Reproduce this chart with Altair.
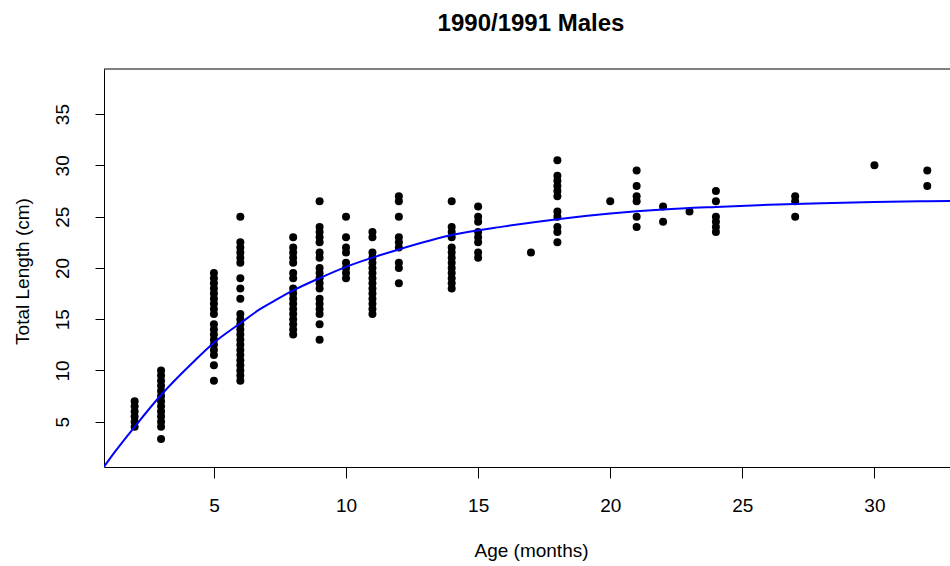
import altair as alt
import pandas as pd

# ---- data ----
ages = [2, 3, 5, 6, 8, 9, 10, 11, 12, 14, 15, 17, 18, 20, 21, 22, 23, 24, 27, 30, 32]
lengths = [
    [4.5, 5, 5.5, 6, 6.5, 7],
    [3.3, 4.5, 5, 5.5, 6, 6.5, 7, 7.5, 8, 8.5, 9, 9.5, 10],
    [9, 10.5, 11.5, 12, 12.5, 13, 13.5, 14, 14.5, 15.5, 16, 16.5, 17, 17.5, 18, 18.5, 19, 19.5],
    [9, 9.5, 10, 10.5, 11, 11.5, 12, 12.5, 13, 13.5, 14, 14.5, 15, 15.5, 17, 18, 19, 20.5, 21, 21.5, 22, 22.5, 25],
    [13.5, 14, 14.5, 15, 15.5, 16, 16.5, 17, 17.5, 18, 19, 19.5, 20.5, 21, 21.5, 22, 23],
    [13, 14.5, 15.5, 16, 16.5, 17, 18, 18.5, 19, 19.5, 20, 21, 21.5, 22.5, 23, 23.5, 24, 26.5],
    [19, 19.5, 20, 20.5, 21.5, 22, 23, 25],
    [15.5, 16, 16.5, 17, 17.5, 18, 18.5, 19, 19.5, 20, 20.5, 21, 21.5, 23, 23.5],
    [18.5, 20, 20.5, 22, 22.5, 23, 25, 26.5, 27],
    [18, 18.5, 19, 19.5, 20, 20.5, 21, 21.5, 22, 23, 23.5, 24, 26.5],
    [21, 21.5, 22.5, 23, 23.5, 24.5, 25, 26],
    [21.5],
    [22.5, 23.5, 24, 25, 25.5, 27, 27.5, 28, 28.5, 29, 30.5],
    [26.5],
    [24, 25, 26.5, 27, 28, 29.5],
    [24.5, 26],
    [25.5],
    [23.5, 24, 24.5, 25, 26.5, 27.5],
    [25, 26.5, 27],
    [30],
    [28, 29.5],
]

# fitted growth curve
curve_age = [0.84, 1.25, 2, 3, 3.7, 4.27, 5, 6, 6.73, 7.3, 8, 9, 10, 11, 12, 14,
             16, 18, 20, 22, 24, 26, 28, 30, 32, 32.86]
curve_len = [0.6, 2.05, 4.5, 7.6, 9.5, 10.95, 12.7, 14.6, 15.95, 16.8, 17.8, 19.0, 20.1,
             21.0, 21.8, 23.2, 24.05, 24.75, 25.3, 25.7, 25.95, 26.15, 26.3, 26.42, 26.5, 26.53]

x_ticks = [5, 10, 15, 20, 25, 30]
y_ticks = [5, 10, 15, 20, 25, 30, 35]

rows = [(a, v) for a, col in zip(ages, lengths) for v in col]
df_pts = pd.DataFrame(rows, columns=["age", "length"])
df_curve = pd.DataFrame({"age": curve_age, "length": curve_len})

FONT = "Liberation Sans"
W, H = 846, 398

xscale = alt.Scale(domain=[0.84, 32.86], nice=False, zero=False)
yscale = alt.Scale(domain=[0.58, 39.4], nice=False, zero=False)

xaxis = alt.Axis(values=x_ticks, title="Age (months)", grid=False,
                 tickSize=11, tickColor="black", domainColor="black",
                 labelFont=FONT, labelFontSize=19, labelColor="black", labelPadding=18,
                 labelFlush=False,
                 titleFont=FONT, titleFontSize=19, titleFontWeight="normal", titleColor="black",
                 titleBaseline="alphabetic", titleY=89, titleX=427)
yaxis = alt.Axis(values=y_ticks, title="Total Length (cm)", grid=False,
                 tickSize=9, tickColor="black", domainColor="black",
                 labelFont=FONT, labelFontSize=19, labelColor="black",
                 labelAngle=270, labelAlign="center", labelBaseline="alphabetic", labelPadding=27,
                 labelFlush=False,
                 titleFont=FONT, titleFontSize=19, titleFontWeight="normal", titleColor="black",
                 titleAngle=270, titleAlign="center", titleBaseline="alphabetic",
                 titleX=-76, titleY=202)

points = alt.Chart(df_pts).mark_circle(size=64, color="black", opacity=1).encode(
    x=alt.X("age:Q", scale=xscale, axis=xaxis),
    y=alt.Y("length:Q", scale=yscale, axis=yaxis),
)
curve = alt.Chart(df_curve).mark_line(color="#0000FF", strokeWidth=2, clip=True,
                                      interpolate="monotone").encode(
    x=alt.X("age:Q", scale=xscale),
    y=alt.Y("length:Q", scale=yscale),
)
top = alt.Chart(pd.DataFrame({"k": [0]})).mark_rule(color="black", strokeWidth=1).encode(
    x=alt.value(0), x2=alt.value(W), y=alt.value(0)
)

chart = alt.layer(points, curve, top).properties(
    width=W, height=H,
    title=alt.TitleParams("1990/1991 Males", font=FONT, fontSize=24, fontWeight="bold",
                          color="black", anchor="middle", dx=4, baseline="alphabetic", offset=14),
    padding={"left": 104, "top": 69, "right": 0, "bottom": 99},
    autosize=alt.AutoSizeParams(type="none"),
    background="white",
).configure_view(stroke=None)

chart.save("out.html", embed_options={"renderer": "svg", "actions": False})
